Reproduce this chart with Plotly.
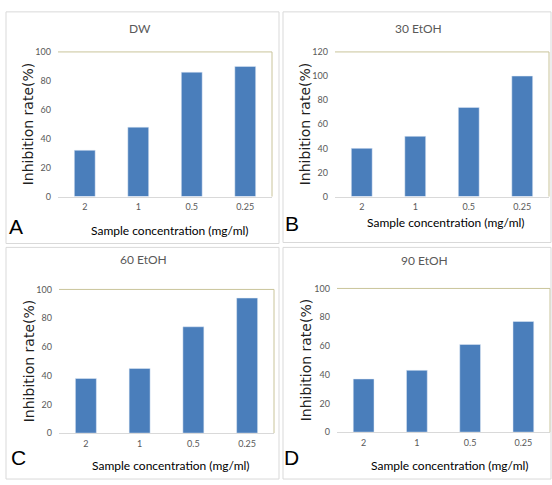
import plotly.graph_objects as go

categories = ["2", "1", "0.5", "0.25"]
dw = [32, 48, 86, 90]
etoh30 = [40, 50, 74, 100]
etoh60 = [38, 45, 74, 94]
etoh90 = [37, 43, 61, 77]

titles = ["DW", "30 EtOH", "60 EtOH", "90 EtOH"]
letters = ["A", "B", "C", "D"]
series = [dw, etoh30, etoh60, etoh90]
ymax = [100, 120, 100, 100]

W, H = 552, 485
BAR = "#4a7ebb"
NARROW = "Lato, Liberation Sans, sans-serif"

# plot areas in pixels (x0, x1, ytop, ybottom)
areas = [(58, 272, 47, 195), (335, 549, 47, 195), (59, 274, 290, 437), (337, 550, 289, 436)]
frames = [(6, 279, 6, 243), (283, 551, 6, 242), (6, 279, 247, 484), (283, 551, 247, 484)]
title_pos = [(140, 23), (418, 23), (143, 259), (424, 260)]
letter_pos = [(16, 226), (292, 223), (18, 462), (291, 462)]
xtitle_pos = [(170, 230), (446, 222), (171, 470), (450, 470)]
ytitle_x = [28, 305, 29, 306]

def px(x):
    return x / W

def py(y):
    return 1 - y / H

def ann(text, x, y, font, angle=0):
    return dict(text=text, x=px(x), y=py(y), xref="paper", yref="paper",
                xanchor="center", yanchor="middle", showarrow=False,
                textangle=angle, font=font)

fig = go.Figure()
shapes = []
annotations = []
for i in range(4):
    n = "" if i == 0 else str(i + 1)
    x0, x1, yt, yb = areas[i]
    fig.add_trace(go.Bar(x=categories, y=series[i], marker_color=BAR,
                         xaxis="x" + n, yaxis="y" + n, showlegend=False))
    fig.layout["xaxis" + n] = dict(domain=[px(x0), px(x1)], anchor="y" + n,
                                   type="category", showline=True, linecolor="#d9d9d9",
                                   linewidth=1, showgrid=False, ticks="",
                                   tickfont=dict(family=NARROW, size=9, color="#595959"),
                                   ticklabelstandoff=2, fixedrange=True)
    fig.layout["yaxis" + n] = dict(domain=[py(yb), py(yt)], anchor="x" + n,
                                   range=[0, ymax[i]], dtick=20, showgrid=False,
                                   showline=False, zeroline=False, ticks="",
                                   tickfont=dict(family=NARROW, size=9, color="#595959"),
                                   ticklabelstandoff=6, fixedrange=True)
    # plot-area border (top & right)
    shapes.append(dict(type="line", xref="paper", yref="paper", x0=px(x0), x1=px(x1),
                       y0=py(yt), y1=py(yt), line=dict(color="#c9c49a", width=1)))
    shapes.append(dict(type="line", xref="paper", yref="paper", x0=px(x1), x1=px(x1),
                       y0=py(yt), y1=py(yb), line=dict(color="#c9c49a", width=1)))
    # panel frame
    fx0, fx1, fy0, fy1 = frames[i]
    shapes.append(dict(type="rect", xref="paper", yref="paper", x0=px(fx0), x1=px(fx1),
                       y0=py(fy1), y1=py(fy0), line=dict(color="#d9d9d9", width=1)))
    annotations.append(ann(titles[i], *title_pos[i],
                           dict(family=NARROW, size=12, color="#595959")))
    annotations.append(ann(letters[i], *letter_pos[i],
                           dict(family="Liberation Sans, sans-serif", size=21, color="#000000")))
    annotations.append(ann("Sample concentration (mg/ml)", *xtitle_pos[i],
                           dict(family=NARROW, size=12, color="#000000")))
    annotations.append(ann("Inhibition rate(%)", ytitle_x[i], (yt + yb) / 2,
                           dict(family="DejaVu Sans, Verdana, sans-serif", size=14,
                                color="#1f1f1f"), angle=-90))

fig.update_layout(width=W, height=H, margin=dict(l=0, r=0, t=0, b=0),
                  paper_bgcolor="white", plot_bgcolor="white", bargap=0.61,
                  shapes=shapes, annotations=annotations)
fig.write_html("out.html", config={"displayModeBar": False},
               post_script="document.body.style.margin='0';document.body.style.overflow='hidden';")
